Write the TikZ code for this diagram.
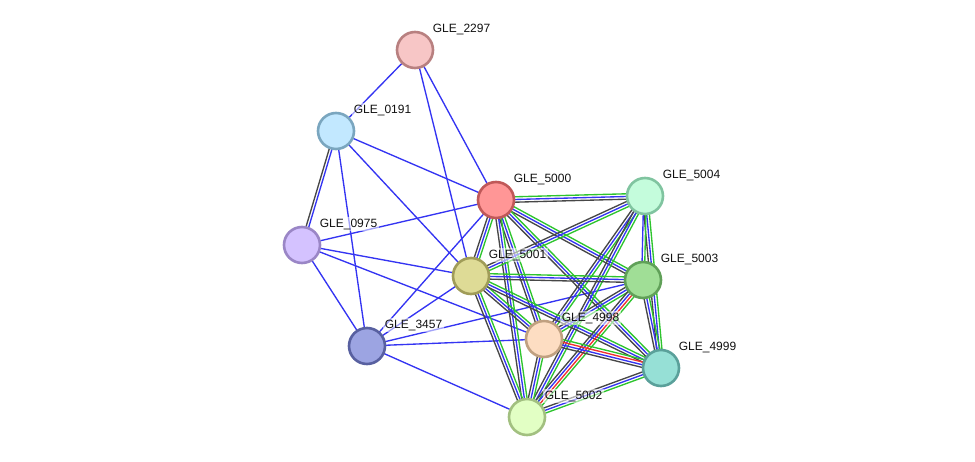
\documentclass[tikz,border=0pt]{standalone}
\usepackage{fontspec}
\setmainfont{Liberation Sans}
\usetikzlibrary{calc,backgrounds}
\definecolor{Ink}{HTML}{111111}
\definecolor{SBlue}{HTML}{3434F2}
\definecolor{SGreen}{HTML}{2EC42E}
\definecolor{SGray}{HTML}{474747}
\definecolor{SRed}{HTML}{F03030}

% one strand of an evidence line, shifted sideways by #4
\newcommand{\strand}[5]{%
  \draw[edge,#3] ($(#1)!#4!#5:(#2)$) -- ($(#2)!#4!-#5:(#1)$);}
\newcommand{\triple}[2]{%
  \strand{#1}{#2}{SGreen}{2.7pt}{90}%
  \strand{#1}{#2}{SBlue}{0pt}{90}%
  \strand{#1}{#2}{SGray}{2.7pt}{270}}
\newcommand{\quadruple}[2]{%
  \strand{#1}{#2}{SGreen}{4pt}{90}%
  \strand{#1}{#2}{SRed}{1.35pt}{90}%
  \strand{#1}{#2}{SBlue}{1.35pt}{270}%
  \strand{#1}{#2}{SGray}{4pt}{270}}

\begin{document}
\begin{tikzpicture}[x=1pt,y=-1pt,
    prot/.style={circle,draw,line width=2.6pt,minimum size=36pt,inner sep=0pt},
    lbl/.style={font=\fontsize{12}{14}\selectfont,text=Ink,inner sep=1.5pt,
      xshift=2.5pt,fill=white,fill opacity=0.55,text opacity=1},
    edge/.style={line width=1.35pt}]
  \useasboundingbox (0,0) rectangle (975,462);

  % proteins
  \node[prot,fill={rgb,255:red,247;green,198;blue,198},draw={rgb,255:red,184;green,128;blue,128},
    label={[lbl]above right:GLE\_2297}] (g2297) at (415,50) {};
  \node[prot,fill={rgb,255:red,194;green,232;blue,255},draw={rgb,255:red,122;green,166;blue,191},
    label={[lbl]above right:GLE\_0191}] (g0191) at (336,131) {};
  \node[prot,fill={rgb,255:red,255;green,150;blue,150},draw={rgb,255:red,192;green,88;blue,88},
    label={[lbl]above right:GLE\_5000}] (g5000) at (496,200) {};
  \node[prot,fill={rgb,255:red,196;green,252;blue,220},draw={rgb,255:red,128;green,196;blue,160},
    label={[lbl]above right:GLE\_5004}] (g5004) at (645,196) {};
  \node[prot,fill={rgb,255:red,212;green,194;blue,255},draw={rgb,255:red,154;green,134;blue,198},
    label={[lbl]above right:GLE\_0975}] (g0975) at (302,245) {};
  \node[prot,fill={rgb,255:red,222;green,219;blue,150},draw={rgb,255:red,160;green,156;blue,88},
    label={[lbl]above right:GLE\_5001}] (g5001) at (471,276) {};
  \node[prot,fill={rgb,255:red,160;green,222;blue,150},draw={rgb,255:red,96;green,160;blue,88},
    label={[lbl]above right:GLE\_5003}] (g5003) at (643,280) {};
  \node[prot,fill={rgb,255:red,156;green,164;blue,226},draw={rgb,255:red,88;green,96;blue,160},
    label={[lbl]above right:GLE\_3457}] (g3457) at (367,346) {};
  \node[prot,fill={rgb,255:red,253;green,221;blue,194},draw={rgb,255:red,192;green,160;blue,128},
    label={[lbl]above right:GLE\_4998}] (g4998) at (544,339) {};
  \node[prot,fill={rgb,255:red,150;green,224;blue,214},draw={rgb,255:red,90;green,160;blue,154},
    label={[lbl]above right:GLE\_4999}] (g4999) at (661,368) {};
  \node[prot,fill={rgb,255:red,226;green,255;blue,196},draw={rgb,255:red,162;green,192;blue,128},
    label={[lbl]above right:GLE\_5002}] (g5002) at (527,417) {};

  \begin{scope}[on background layer]
    % single blue links
    \foreach \a/\b in {g2297/g0191,g2297/g5000,g2297/g5001,g0191/g5000,
        g0191/g5001,g0191/g3457,g0975/g5000,g0975/g5001,g0975/g4998,
        g0975/g3457,g3457/g5000,g3457/g5001,g3457/g5003,g3457/g4998,
        g3457/g5002}
      \draw[edge,SBlue] (\a.center) -- (\b.center);
    \strand{g0191}{g0975}{SGray}{1.35pt}{270}
    \strand{g0191}{g0975}{SBlue}{1.35pt}{90}
    % the dense core
    \foreach \a/\b in {g5000/g5004,g5000/g5001,g5000/g5003,g5000/g4998,
        g5000/g4999,g5000/g5002,g5004/g5001,g5004/g4998,g5004/g4999,
        g5004/g5002,g5001/g5003,g5001/g4998,g5001/g4999,g5001/g5002,
        g5003/g4998,g5003/g4999,g4998/g5002,g4999/g5002}
      {\triple{\a}{\b}}
    \strand{g5004}{g5003}{SGreen}{1.35pt}{90}
    \strand{g5004}{g5003}{SBlue}{1.35pt}{270}
    \quadruple{g5003}{g5002}
    \quadruple{g4998}{g4999}
  \end{scope}
\end{tikzpicture}
\end{document}
